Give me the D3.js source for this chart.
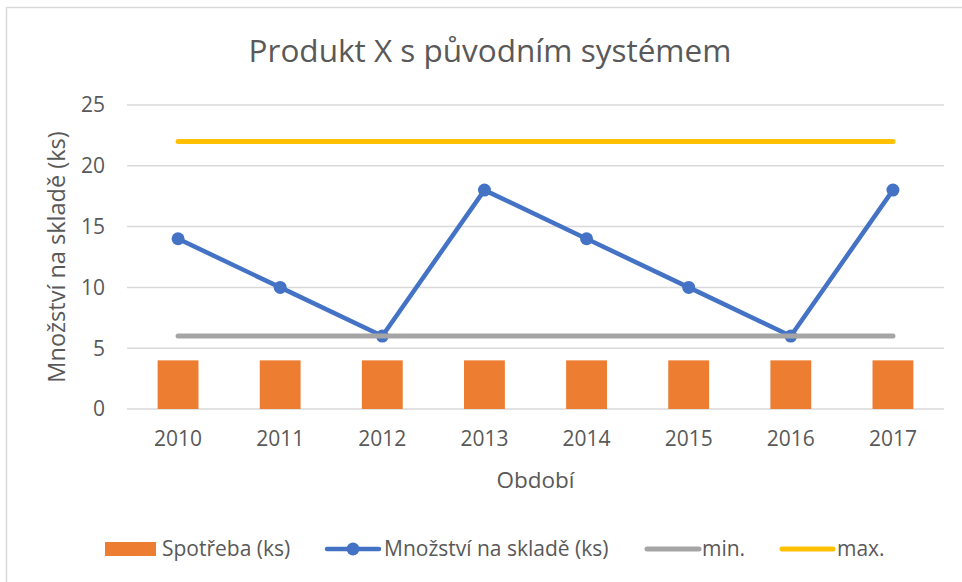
<!DOCTYPE html>
<html lang="cs">
<head>
<meta charset="UTF-8">
<title>Produkt X</title>
<style>
  body { margin: 0; background: #fff; }
  text { font-family: "Open Sans", "Noto Sans", sans-serif; fill: #595959; }
</style>
</head>
<body>
<svg id="chart" width="962" height="582"></svg>
<script src="https://cdn.jsdelivr.net/npm/d3@7"></script>
<script>
// Data
const years = ['2010', '2011', '2012', '2013', '2014', '2015', '2016', '2017']
const spotreba = [4, 4, 4, 4, 4, 4, 4, 4]
const mnozstvi = [14, 10, 6, 18, 14, 10, 6, 18]
const minLevel = [6, 6, 6, 6, 6, 6, 6, 6]
const maxLevel = [22, 22, 22, 22, 22, 22, 22, 22]
const yTicks = [0, 5, 10, 15, 20, 25]

const colors = { bar: '#ED7D31', stock: '#4472C4', min: '#A5A5A5', max: '#FFC000' }

const svg = d3.select('#chart')

// outer frame (runs off the right and bottom of the picture)
svg.append('rect')
  .attr('x', 6.5).attr('y', 7.5)
  .attr('width', 1000).attr('height', 700)
  .attr('fill', 'none').attr('stroke', '#d9d9d9').attr('stroke-width', 1.5)

const plot = { left: 127, right: 944, top: 105, bottom: 409 }

const x = d3.scaleBand().domain(years).range([plot.left, plot.right])
const y = d3.scaleLinear().domain([0, 25]).range([plot.bottom, plot.top])
const cx = d => x(d) + x.bandwidth() / 2

// gridlines
svg.append('g').selectAll('line').data(yTicks).join('line')
  .attr('x1', plot.left).attr('x2', plot.right)
  .attr('y1', d => y(d)).attr('y2', d => y(d))
  .attr('stroke', '#d9d9d9').attr('stroke-width', 1.5)

// y tick labels
svg.append('g').selectAll('text').data(yTicks).join('text')
  .attr('x', 105).attr('y', d => y(d))
  .attr('dy', '0.35em').attr('text-anchor', 'end')
  .style('font-size', '21px')
  .text(d => d)

// x tick labels
svg.append('g').selectAll('text').data(years).join('text')
  .attr('x', d => cx(d)).attr('y', 439)
  .attr('dy', '0.35em').attr('text-anchor', 'middle')
  .style('font-size', '21px')
  .text(d => d)

// axis titles
svg.append('text')
  .attr('x', (plot.left + plot.right) / 2).attr('y', 480)
  .attr('dy', '0.35em').attr('text-anchor', 'middle')
  .style('font-size', '22.5px')
  .text('Období')

svg.append('text')
  .attr('transform', `translate(57,${(plot.top + plot.bottom) / 2}) rotate(-90)`)
  .attr('dy', '0.35em').attr('text-anchor', 'middle')
  .style('font-size', '23.5px')
  .text('Množství na skladě (ks)')

// title
svg.append('text')
  .attr('x', 490).attr('y', 51)
  .attr('dy', '0.35em').attr('text-anchor', 'middle')
  .style('font-size', '31.5px')
  .text('Produkt X s původním systémem')

// bars
const barW = x.bandwidth() * 0.4
svg.append('g').selectAll('rect').data(years).join('rect')
  .attr('x', d => cx(d) - barW / 2)
  .attr('y', (d, i) => y(spotreba[i]))
  .attr('width', barW)
  .attr('height', (d, i) => y(0) - y(spotreba[i]))
  .attr('fill', colors.bar)

const line = d3.line().x(d => cx(d.year)).y(d => y(d.v))
const pts = arr => years.map((yr, i) => ({ year: yr, v: arr[i] }))

// stock line with markers
svg.append('path').datum(pts(mnozstvi))
  .attr('d', line).attr('fill', 'none')
  .attr('stroke', colors.stock).attr('stroke-width', 4.5)
  .attr('stroke-linejoin', 'round').attr('stroke-linecap', 'round')
svg.append('g').selectAll('circle').data(pts(mnozstvi)).join('circle')
  .attr('cx', d => cx(d.year)).attr('cy', d => y(d.v))
  .attr('r', 6.5).attr('fill', colors.stock)

// min / max
svg.append('path').datum(pts(minLevel))
  .attr('d', line).attr('fill', 'none')
  .attr('stroke', colors.min).attr('stroke-width', 5).attr('stroke-linecap', 'round')
svg.append('path').datum(pts(maxLevel))
  .attr('d', line).attr('fill', 'none')
  .attr('stroke', colors.max).attr('stroke-width', 5).attr('stroke-linecap', 'round')

// legend
const legY = 549
const leg = svg.append('g').style('font-size', '21px')
leg.append('rect').attr('x', 105).attr('y', legY - 7).attr('width', 51).attr('height', 14).attr('fill', colors.bar)
leg.append('text').attr('x', 162).attr('y', legY).attr('dy', '0.35em').text('Spotřeba (ks)')

leg.append('line').attr('x1', 327).attr('x2', 379).attr('y1', legY).attr('y2', legY)
  .attr('stroke', colors.stock).attr('stroke-width', 4.5).attr('stroke-linecap', 'round')
leg.append('circle').attr('cx', 353).attr('cy', legY).attr('r', 6.5).attr('fill', colors.stock)
leg.append('text').attr('x', 384).attr('y', legY).attr('dy', '0.35em').text('Množství na skladě (ks)')

leg.append('line').attr('x1', 647).attr('x2', 699).attr('y1', legY).attr('y2', legY)
  .attr('stroke', colors.min).attr('stroke-width', 5).attr('stroke-linecap', 'round')
leg.append('text').attr('x', 702).attr('y', legY).attr('dy', '0.35em').text('min.')

leg.append('line').attr('x1', 782).attr('x2', 833).attr('y1', legY).attr('y2', legY)
  .attr('stroke', colors.max).attr('stroke-width', 5).attr('stroke-linecap', 'round')
leg.append('text').attr('x', 837).attr('y', legY).attr('dy', '0.35em').text('max.')
</script>
</body>
</html>
